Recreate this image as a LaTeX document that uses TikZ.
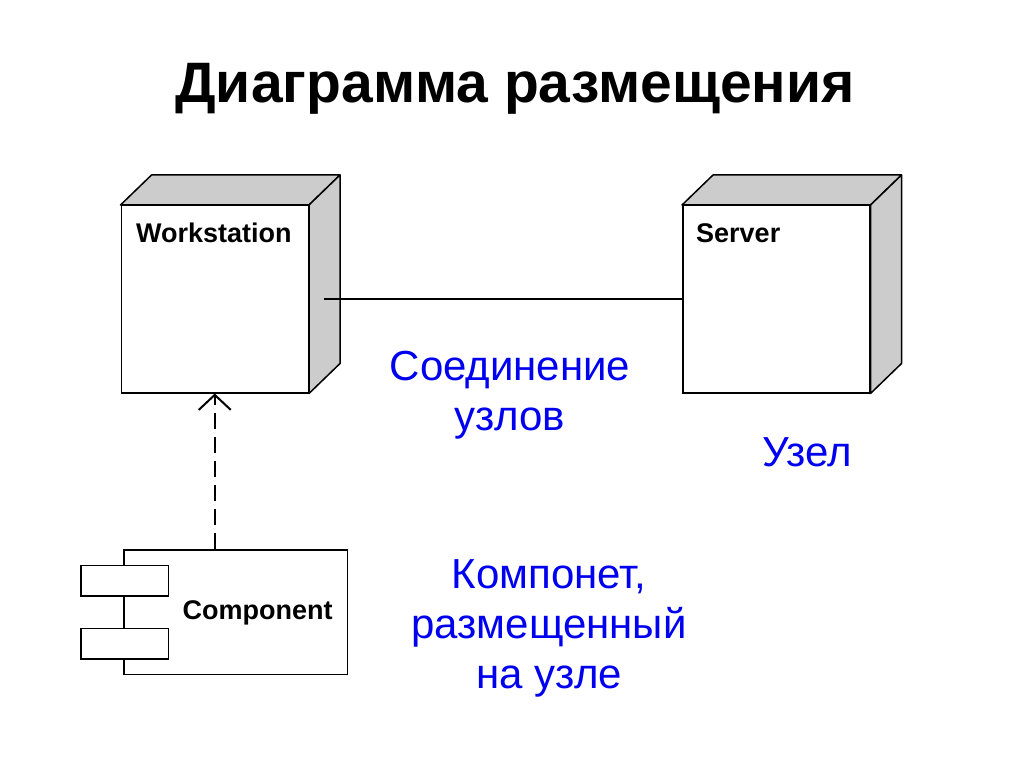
\documentclass[tikz,border=0pt]{standalone}
\usepackage{fontspec}
\setmainfont{Liberation Sans}
\usetikzlibrary{calc,arrows.meta}
\definecolor{facegray}{HTML}{CCCCCC}
\definecolor{lblblue}{HTML}{0000F0}
\tikzset{
  front/.style={draw=black, line width=1.5pt, fill=white, rectangle, minimum width=187pt, minimum height=187pt, inner sep=0pt, anchor=north west},
  face/.style={draw=black, line width=1.5pt, fill=facegray, line join=round},
  nodelbl/.style={font=\bfseries\fontsize{27}{30}\selectfont, inner sep=0pt, anchor=base west},
  comprect/.style={draw=black, line width=1.5pt, fill=white, rectangle, inner sep=0pt},
  conn/.style={draw=black, line width=2pt},
  dep/.style={draw=black, line width=2pt, dash pattern=on 16pt off 8pt, -{Straight Barb[length=15pt,width=32pt,line width=2pt]}},
  bluetxt/.style={text=lblblue, font=\fontsize{42}{50}\selectfont, align=center, inner sep=0pt},
  title/.style={font=\bfseries\fontsize{57}{60}\selectfont, inner sep=0pt, anchor=base}
}
\begin{document}
\begin{tikzpicture}[x=1pt,y=-1pt]
\useasboundingbox[fill=white] (0,0) rectangle (1024,767);
% title
\node[title] (ttl) at (515,103) {Диаграмма размещения};
% workstation node
\node[front] (ws) at (120.5,205) {};
\draw[face] (ws.north west) -- ++(31,-30) -- ($(ws.north east)+(31,-30)$) -- (ws.north east) -- cycle;
\draw[face] (ws.north east) -- ++(31,-30) -- ($(ws.south east)+(31,-30)$) -- (ws.south east) -- cycle;
\node[nodelbl] (wsl) at ($(ws.north west)+(15.5,38)$) {Workstation};
% server node
\node[front] (srv) at (682,205) {};
\draw[face] (srv.north west) -- ++(31,-30) -- ($(srv.north east)+(31,-30)$) -- (srv.north east) -- cycle;
\draw[face] (srv.north east) -- ++(31,-30) -- ($(srv.south east)+(31,-30)$) -- (srv.south east) -- cycle;
\node[nodelbl] (srvl) at ($(srv.north west)+(14,38)$) {Server};
% connection
\coordinate (wsside) at ($(ws.east)+(14.5,0)$);
\draw[conn] (wsside) -- (srv.west);
% component
\node[comprect, minimum width=223.5pt, minimum height=124.5pt, anchor=north west] (comp) at (123.3,549) {};
\node[comprect, minimum width=87.5pt, minimum height=30.5pt, anchor=north west] (p1) at (80,564.5) {};
\node[comprect, minimum width=87.5pt, minimum height=30.5pt, anchor=north west] (p2) at (80,627.5) {};
\node[nodelbl] (compl) at (182.5,619) {Component};
% dependency
\draw[dep] (ws.south |- comp.north) -- (ws.south);
% blue labels (base anchor = baseline of the last line)
\node[bluetxt, anchor=base] (t1) at (510,430) {Соединение\\узлов};
\node[bluetxt, anchor=base] (t2) at (807,466.5) {Узел};
\node[bluetxt, anchor=base] (t3) at (549,688) {Компонет,\\размещенный\\на узле};
\end{tikzpicture}
\end{document}
